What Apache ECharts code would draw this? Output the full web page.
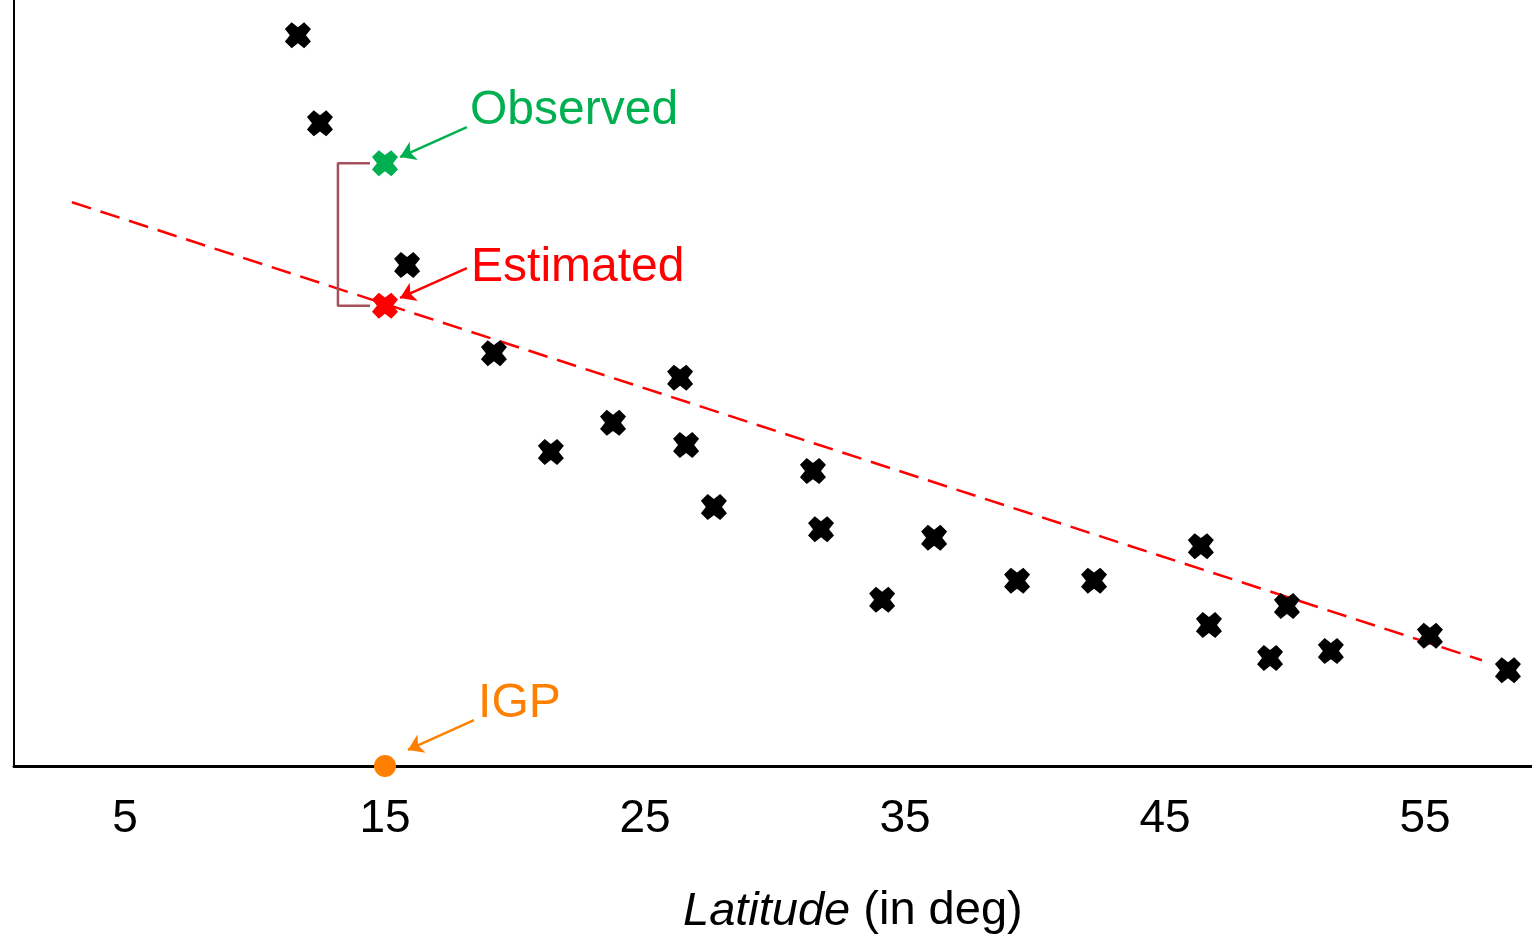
<!DOCTYPE html>
<html>
<head>
<meta charset="utf-8">
<script src="https://cdn.jsdelivr.net/npm/echarts@6/dist/echarts.min.js"></script>
<style>
html,body{margin:0;padding:0;background:#fff;}
#chart{width:1532px;height:934px;}
</style>
</head>
<body>
<div id="chart"></div>
<script>
// Black scatter points (latitude in deg, vertical value in arbitrary units)
const pointLat   = [11.65, 12.5, 15.85, 19.19, 21.38, 23.77, 26.35, 26.58, 27.65, 31.46, 31.77, 34.12, 36.12, 39.31, 42.27, 46.38, 46.69, 49.04, 49.69, 51.38, 55.19, 58.19];
const pointValue = [95.4, 83.9, 65.4, 53.9, 41.0, 44.8, 50.7, 41.9, 33.8, 38.5, 30.9, 21.7, 29.8, 24.2, 24.2, 28.7, 18.4, 14.1, 20.9, 15.0, 17.0, 12.5];
// Highlighted points
const observedPoint  = [15, 78.7];
const estimatedPoint = [15, 60.1];
const igpPoint       = [15, 0];
// Fitted (dashed) line end points
const fitLine = [[2.96, 73.6], [57.19, 13.8]];
// Bracket between observed and estimated
const bracket = [[14.42, 78.7], [13.19, 78.7], [13.19, 60.1], [14.42, 60.1]];
// Annotation arrows [from, to]
const observedArrow  = [[18.15, 83.4], [15.58, 79.5]];
const estimatedArrow = [[18.15, 65.0], [15.58, 61.1]];
const igpArrow       = [[18.42, 6.0], [15.88, 2.1]];
// Annotation labels
const annoText = ['Observed', 'Estimated', 'IGP'];
const annoPos  = [[18.27, 85.6], [18.31, 65.1], [18.58, 8.1]];
const annoColor = ['#00B050', '#FF0000', '#FF8000'];
// Axis
const tickLabels = [5, 15, 25, 35, 45, 55];
const xMin = 0.731, xMax = 59.115;

const FONT = '"Liberation Sans", Arial, sans-serif';
const XSYM = 'path://M2.6,0L5,1.9L7.4,0L10,2.6L8.1,5L10,7.4L7.4,10L5,8.1L2.6,10L0,7.4L1.9,5L0,2.6Z';

const chart = echarts.init(document.getElementById('chart'), null, {renderer: 'canvas'});

function arrowSeries(coords, color) {
  return {
    type: 'lines',
    coordinateSystem: 'cartesian2d',
    symbol: ['none', 'arrow'],
    symbolSize: 15,
    silent: true,
    z: 5,
    lineStyle: {color: color, width: 2.5, opacity: 1, curveness: 0},
    data: [{coords: coords}]
  };
}

chart.setOption({
  animation: false,
  backgroundColor: '#fff',
  title: {
    left: 678,
    top: 883,
    text: '{i|Latitude} (in deg)',
    textStyle: {
      fontFamily: FONT, fontSize: 47, fontWeight: 'normal', color: '#000',
      rich: {i: {fontFamily: FONT, fontSize: 47, fontStyle: 'italic', color: '#000'}}
    }
  },
  grid: {left: 14, right: 0, top: 0, bottom: 168, containLabel: false},
  xAxis: {
    type: 'value',
    min: xMin, max: xMax,
    splitLine: {show: false},
    axisTick: {show: false},
    axisLine: {show: true, onZero: false, lineStyle: {color: '#000', width: 3}},
    axisLabel: {
      customValues: tickLabels,
      formatter: v => String(Math.round(v)),
      margin: 30,
      fontFamily: FONT, fontSize: 46, color: '#000'
    }
  },
  yAxis: {
    type: 'value',
    min: 0, max: 100,
    splitLine: {show: false},
    axisTick: {show: false},
    axisLabel: {show: false},
    axisLine: {show: true, onZero: false, lineStyle: {color: '#000', width: 2}}
  },
  series: [
    {
      type: 'line',
      data: fitLine,
      symbol: 'none',
      silent: true,
      z: 1,
      lineStyle: {color: '#FF0000', width: 2.5, type: [20, 10]}
    },
    {
      type: 'line',
      data: bracket,
      symbol: 'none',
      silent: true,
      z: 1,
      lineStyle: {color: '#A5505C', width: 2.5}
    },
    {
      type: 'scatter',
      data: pointLat.map((x, i) => [x, pointValue[i]]),
      symbol: XSYM,
      symbolSize: 26,
      z: 3,
      itemStyle: {color: '#000', opacity: 1}
    },
    {
      type: 'scatter',
      data: [observedPoint],
      symbol: XSYM,
      symbolSize: 26,
      z: 3,
      itemStyle: {color: '#00B050', opacity: 1}
    },
    {
      type: 'scatter',
      data: [estimatedPoint],
      symbol: XSYM,
      symbolSize: 26,
      z: 3,
      itemStyle: {color: '#FF0000', opacity: 1}
    },
    {
      type: 'scatter',
      data: [igpPoint],
      symbol: 'circle',
      symbolSize: 22,
      clip: false,
      z: 4,
      itemStyle: {color: '#FF8000', opacity: 1}
    },
    arrowSeries(observedArrow, '#00B050'),
    arrowSeries(estimatedArrow, '#FF0000'),
    arrowSeries(igpArrow, '#FF8000'),
    {
      type: 'scatter',
      symbolSize: 0,
      silent: true,
      z: 6,
      itemStyle: {opacity: 1},
      data: annoText.map((t, i) => ({
        value: annoPos[i],
        name: t,
        label: {
          show: true,
          position: 'right',
          distance: 0,
          formatter: t,
          color: annoColor[i],
          opacity: 1,
          fontFamily: FONT,
          fontSize: 48,
          align: 'left',
          verticalAlign: 'middle'
        }
      }))
    }
  ]
});
</script>
</body>
</html>
